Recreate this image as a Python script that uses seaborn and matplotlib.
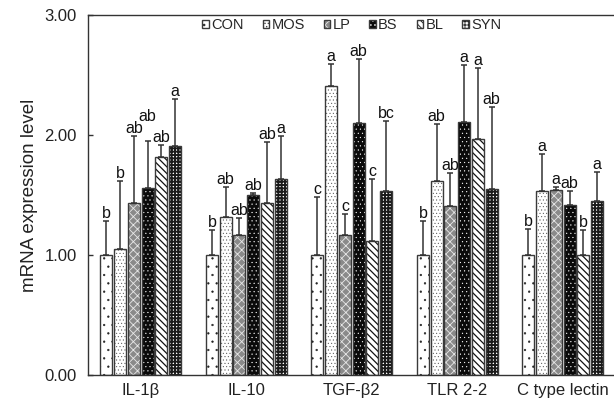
import matplotlib
matplotlib.use("Agg")
import matplotlib.pyplot as plt
import numpy as np
import pandas as pd
import seaborn as sns

genes = ['IL-1β', 'IL-10', 'TGF-β2', 'TLR 2-2', 'C type lectin']
groups = ['CON', 'MOS', 'LP', 'BS', 'BL', 'SYN']

# mean expression per treatment (order follows genes)
mean_con = [1.00, 1.00, 1.00, 1.00, 1.00]
mean_mos = [1.05, 1.32, 2.41, 1.62, 1.53]
mean_lp = [1.43, 1.17, 1.17, 1.41, 1.54]
mean_bs = [1.56, 1.50, 2.10, 2.11, 1.42]
mean_bl = [1.82, 1.43, 1.12, 1.97, 1.00]
mean_syn = [1.91, 1.63, 1.53, 1.55, 1.45]

# upper error (SD)
sd_con = [0.28, 0.21, 0.48, 0.28, 0.22]
sd_mos = [0.57, 0.25, 0.18, 0.47, 0.31]
sd_lp = [0.56, 0.14, 0.17, 0.27, 0.03]
sd_bs = [0.39, 0.02, 0.53, 0.47, 0.11]
sd_bl = [0.10, 0.51, 0.51, 0.59, 0.21]
sd_syn = [0.39, 0.36, 0.59, 0.68, 0.24]

# significance letters
let_con = ['b', 'b', 'c', 'b', 'b']
let_mos = ['b', 'ab', 'a', 'ab', 'a']
let_lp = ['ab', 'ab', 'c', 'ab', 'a']
let_bs = ['ab', 'ab', 'ab', 'a', 'ab']
let_bl = ['ab', 'ab', 'c', 'a', 'b']
let_syn = ['a', 'a', 'bc', 'ab', 'a']

means = [mean_con, mean_mos, mean_lp, mean_bs, mean_bl, mean_syn]
sds = [sd_con, sd_mos, sd_lp, sd_bs, sd_bl, sd_syn]
letters = [let_con, let_mos, let_lp, let_bs, let_bl, let_syn]

# letter lifted in the original to clear its neighbours (group, gene) -> points
letter_lift = {('BS', 'IL-1β'): 12}

df = pd.DataFrame({
    'gene': np.tile(genes, len(groups)),
    'group': np.repeat(groups, len(genes)),
    'value': np.concatenate(means),
})

sns.set_style('ticks')
plt.rcParams['font.family'] = ['Liberation Sans', 'DejaVu Sans']
plt.rcParams['hatch.linewidth'] = 0.6

fig = plt.figure(figsize=(6.14, 4.04), dpi=100)
ax = fig.add_axes([88 / 614, 1 - 375 / 404, 527.5 / 614, 360 / 404])

sns.barplot(data=df, x='gene', y='value', hue='group', order=genes, hue_order=groups,
            palette=['white'] * len(groups), errorbar=None, width=0.78, gap=0.12,
            legend=False, ax=ax)
bar_sets = list(ax.containers)

# fill colour, hatch, hatch colour, hatch width per treatment
styles = [
    ('white', '..', '#222222', 0.4),
    ('white', '.....', '#444444', 0.3),
    ('#8a8a8a', 'xxxx', '#e8e8e8', 0.6),
    ('#0a0a0a', '....', 'white', 0.3),
    ('white', '\\\\\\\\\\', '#111111', 0.9),
    ('white', '+++++', '#1a1a1a', 1.4),
]

edge = '#3a3a3a'
for grp, cont, (fc, hatch, hc, hlw), sd, labs in zip(groups, bar_sets, styles, sds, letters):
    xs, tops = [], []
    for bar in cont:
        bar.set_facecolor(fc)
        bar.set_edgecolor(edge)
        bar.set_linewidth(1.0)
        bar.set_hatch(hatch)
        bar._hatch_color = matplotlib.colors.to_rgba(hc)
        if hasattr(bar, 'set_hatch_linewidth'):
            bar.set_hatch_linewidth(hlw)
        xs.append(bar.get_x() + bar.get_width() / 2)
        tops.append(bar.get_height())
    xs = np.array(xs)
    tops = np.array(tops)
    sd = np.array(sd)
    ax.errorbar(xs, tops, yerr=[np.zeros_like(sd), sd], fmt='none', ecolor='#333333',
                elinewidth=1.1, capsize=2.0, capthick=1.1, zorder=3)
    for gene, x, t, s, lab in zip(genes, xs, tops, sd, labs):
        lift = letter_lift.get((grp, gene), 0)
        ax.annotate(lab, (x, t + s), xytext=(0, 2.2 + lift), textcoords='offset points',
                    ha='center', va='baseline', fontsize=11.5, color='#111111')

ax.set_xlim(-0.5, len(genes) - 0.5)
ax.set_ylim(0, 3)
ax.set_yticks([0, 1, 2, 3])
ax.set_yticklabels(['0.00', '1.00', '2.00', '3.00'])
ax.tick_params(axis='y', direction='in', length=3.5, width=1, pad=8, labelsize=12,
               color='#333333', labelcolor='#222222')
ax.tick_params(axis='x', length=0, pad=6, labelsize=12, labelcolor='#222222')
ax.set_xlabel('')
ax.set_ylabel('mRNA expression level', fontsize=13.5, color='#222222', labelpad=5)

for side in ['left', 'bottom', 'top']:
    ax.spines[side].set_color('#333333')
    ax.spines[side].set_linewidth(1.0)
ax.spines['right'].set_visible(False)

handles = [c.patches[0] for c in bar_sets]
ax.legend(handles, groups, loc='upper center', bbox_to_anchor=(0.5, 1.0), ncol=6,
          frameon=False, fontsize=10.5, handlelength=0.45, handleheight=0.45,
          handletextpad=0.15, columnspacing=1.3, borderpad=0.1, borderaxespad=0.1)

fig.savefig('out.png', dpi=100)
